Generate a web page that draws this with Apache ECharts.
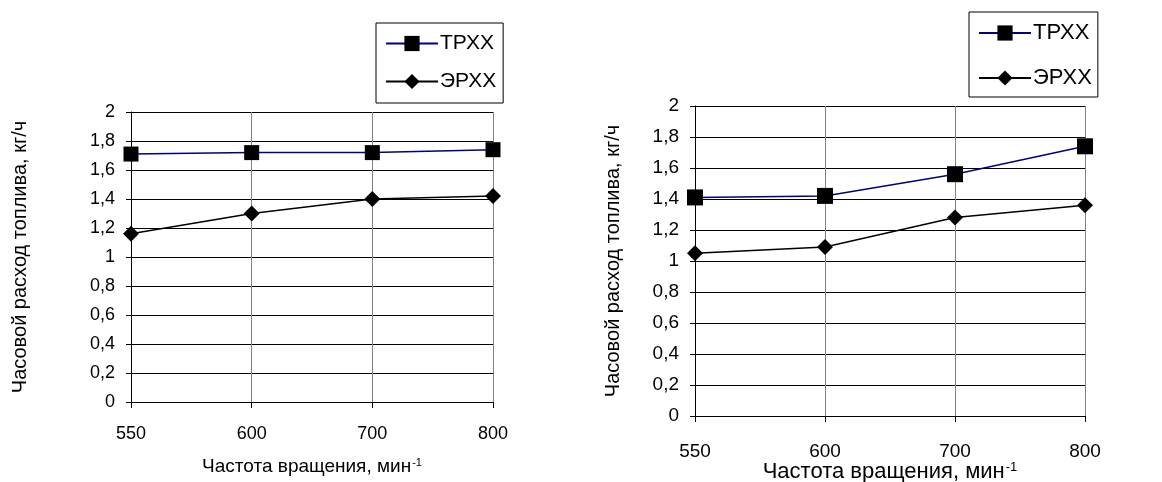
<!DOCTYPE html>
<html>
<head>
<meta charset="utf-8">
<script src="https://cdn.jsdelivr.net/npm/echarts@6/dist/echarts.min.js"></script>
<style>
  html, body { margin: 0; padding: 0; background: #fff; }
  #chart { width: 1162px; height: 482px; }
</style>
</head>
<body>
<div id="chart"></div>
<script>
// Engine speed, rpm (categories shared by both panels)
const categories = ['550', '600', '700', '800'];

// Left panel: hourly fuel consumption, kg/h
const leftTRXX = [1.71, 1.72, 1.72, 1.74];
const leftERXX = [1.16, 1.30, 1.40, 1.42];

// Right panel: hourly fuel consumption, kg/h
const rightTRXX = [1.41, 1.42, 1.56, 1.74];
const rightERXX = [1.05, 1.09, 1.28, 1.36];

// Value-axis tick labels (decimal comma)
const yTickLabels = ['0', '0,2', '0,4', '0,6', '0,8', '1', '1,2', '1,4', '1,6', '1,8', '2'];

const seriesNames = ['ТРХХ', 'ЭРХХ'];
const FONT = 'Liberation Sans, Arial, sans-serif';

function yAxisFor(gridIndex, gap, fontSize) {
  return {
    type: 'value', gridIndex: gridIndex, min: 0, max: 2, interval: 0.2,
    name: 'Часовой расход топлива, кг/ч',
    nameLocation: 'middle', nameGap: gap, nameRotate: 90,
    nameTextStyle: { fontFamily: FONT, fontSize: 20, color: '#000' },
    axisLine: { show: true, lineStyle: { color: '#000', width: 1 } },
    axisTick: { show: true, length: 5, lineStyle: { color: '#000' } },
    axisLabel: {
      fontFamily: FONT, fontSize: fontSize, color: '#000', margin: 16,
      formatter: v => yTickLabels[Math.round(v / 0.2)]
    },
    splitLine: { show: true, lineStyle: { color: '#000', width: 1 } }
  };
}

function xAxisFor(gridIndex, nameGap, nameSize, labelSize, labelMargin) {
  return {
    type: 'category', gridIndex: gridIndex, data: categories, boundaryGap: false,
    name: 'Частота вращения, мин{sup|-1}',
    nameLocation: 'middle', nameGap: nameGap, nameMoveOverlap: false,
    nameTextStyle: {
      fontFamily: FONT, fontSize: nameSize, color: '#000',
      rich: { sup: { fontFamily: FONT, fontSize: Math.round(nameSize * 0.6), color: '#000', verticalAlign: 'top', padding: [0, 0, 0, 1] } }
    },
    axisLine: { show: true, lineStyle: { color: '#000', width: 1 } },
    axisTick: { show: true, alignWithLabel: true, length: 6, lineStyle: { color: '#000' } },
    axisLabel: { fontFamily: FONT, fontSize: labelSize, color: '#000', margin: labelMargin },
    splitLine: { show: true, lineStyle: { color: '#808080', width: 1 } }
  };
}

function lineSeries(name, data, axisIndex, color, symbol, size) {
  return {
    name: name, type: 'line', data: data,
    xAxisIndex: axisIndex, yAxisIndex: axisIndex,
    symbol: symbol, symbolSize: size, showAllSymbol: true,
    lineStyle: { color: color, width: 1.5 },
    itemStyle: { color: '#000', borderWidth: 0 },
    emphasis: { disabled: true },
    animation: false, z: 3
  };
}

function legendAt(left, top, padding, gap, fontSize) {
  return {
    data: seriesNames, orient: 'vertical',
    left: left, top: top,
    padding: padding, itemGap: gap,
    itemWidth: 52, itemHeight: 19,
    borderColor: '#000', borderWidth: 1, backgroundColor: '#fff',
    textStyle: { fontFamily: FONT, fontSize: fontSize, color: '#000', padding: [0, 0, 0, -3] },
    selectedMode: false
  };
}

const chart = echarts.init(document.getElementById('chart'), null, { renderer: 'canvas' });
chart.setOption({
  backgroundColor: '#fff',
  animation: false,
  legend: [
    legendAt(376, 23, [10, 7, 11, 9], 17, 21),
    legendAt(969, 12, [10, 6, 8, 9], 23, 22)
  ],
  grid: [
    { left: 131, top: 112, width: 362, height: 290, containLabel: false, outerBoundsMode: 'none' },
    { left: 695, top: 106, width: 390, height: 310, containLabel: false, outerBoundsMode: 'none' }
  ],
  xAxis: [
    xAxisFor(0, 55, 19, 18, 23),
    xAxisFor(1, 45, 22, 19, 26)
  ],
  yAxis: [
    yAxisFor(0, 101, 18),
    yAxisFor(1, 72, 19)
  ],
  series: [
    lineSeries('ТРХХ', leftTRXX, 0, '#000080', 'rect', 15),
    lineSeries('ЭРХХ', leftERXX, 0, '#000', 'diamond', 16),
    lineSeries('ТРХХ', rightTRXX, 1, '#000080', 'rect', 16),
    lineSeries('ЭРХХ', rightERXX, 1, '#000', 'diamond', 16)
  ]
});
</script>
</body>
</html>
